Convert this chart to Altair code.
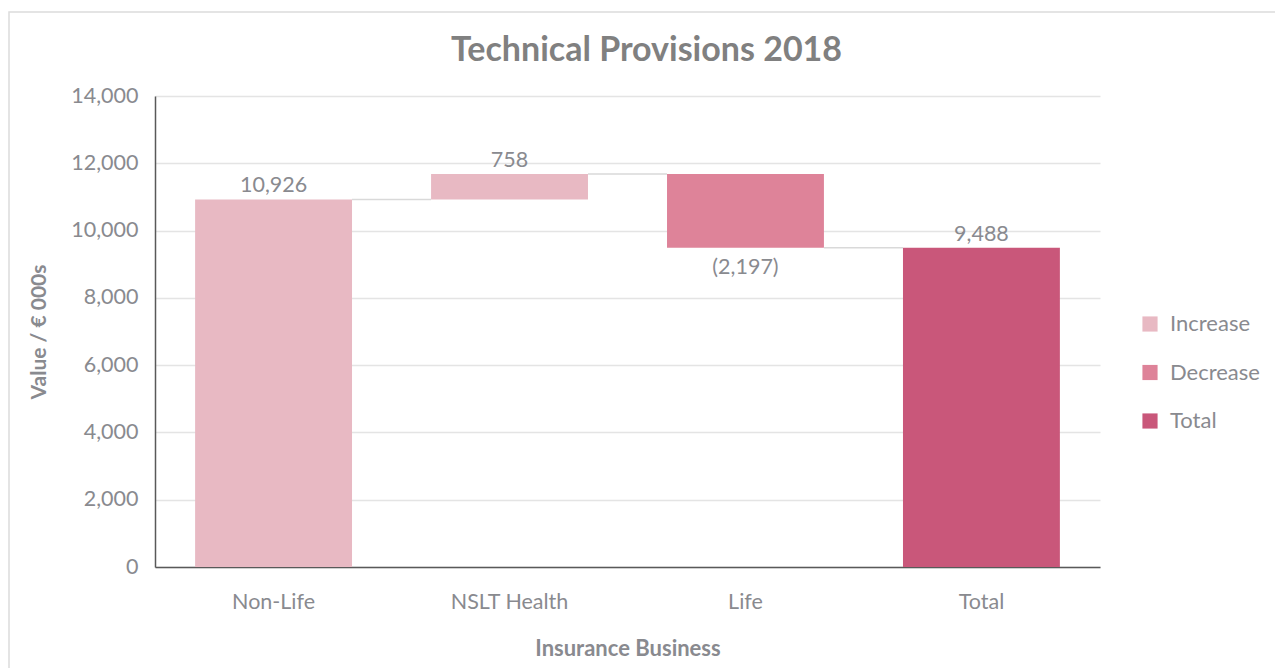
import altair as alt
import pandas as pd

categories = ["Non-Life", "NSLT Health", "Life", "Total"]
starts = [0, 10926, 11684, 0]
ends = [10926, 11684, 9487, 9487]
kinds = ["Increase", "Increase", "Decrease", "Total"]
labels = ["10,926", "758", "(2,197)", "9,488"]

conn_from = ["Non-Life", "NSLT Health", "Life"]
conn_to = ["NSLT Health", "Life", "Total"]
conn_level = [10926, 11684, 9487]

y_ticks = [0, 2000, 4000, 6000, 8000, 10000, 12000, 14000]

legend_order = ["Increase", "Decrease", "Total"]
legend_colors = ["#E8B9C3", "#DE8399", "#C9577A"]

df = pd.DataFrame({"cat": categories, "start": starts, "end": ends,
                   "kind": kinds, "label": labels})
conn = pd.DataFrame({"a": conn_from, "b": conn_to, "lvl": conn_level})

FONT = "Lato"
GRAY = "#898A8F"

xscale = alt.Scale(domain=categories, paddingInner=0.335, paddingOuter=0.17)
xenc = alt.X("cat:N", scale=xscale,
             axis=alt.Axis(title="Insurance Business", labelAngle=0,
                           labelFontSize=21.5, labelColor=GRAY, labelPadding=24,
                           titleFontSize=22, titleColor=GRAY, titleFontWeight="bold",
                           titlePadding=26, ticks=False, domainColor="#595959",
                           domainWidth=1.5, grid=False))
yscale = alt.Scale(domain=[0, 14000], nice=False)

bars = alt.Chart(df).mark_bar().encode(
    x=xenc,
    y=alt.Y("start:Q", scale=yscale,
            axis=alt.Axis(title="Value / € 000s", values=y_ticks, format=",.0f",
                          labelFontSize=21.5, labelColor=GRAY, labelPadding=17,
                          titleFontSize=21, titleColor=GRAY, titleFontWeight="bold",
                          titlePadding=21, ticks=False, domainColor="#595959",
                          domainWidth=1.5, gridColor="#E4E4E4", gridWidth=1.5)),
    y2="end:Q",
    color=alt.Color("kind:N", sort=legend_order,
                    scale=alt.Scale(domain=legend_order, range=legend_colors),
                    legend=alt.Legend(title=None, orient="none", legendX=984, legendY=217,
                                      symbolType="square", symbolSize=230,
                                      symbolStrokeWidth=0, symbolOpacity=1,
                                      labelFontSize=22, labelColor=GRAY,
                                      rowPadding=26.5, labelOffset=9)),
)

connectors = alt.Chart(conn).mark_rule(color="#D9D9D9", strokeWidth=1.5).encode(
    x=alt.X("a:N", scale=xscale, bandPosition=1),
    x2=alt.X2("b:N", bandPosition=0),
    y=alt.Y("lvl:Q", scale=yscale),
)

up_labels = alt.Chart(df).transform_filter(alt.datum.kind != "Decrease").mark_text(
    baseline="bottom", dy=-2, fontSize=21.5, color=GRAY, font=FONT).encode(
    x=alt.X("cat:N", scale=xscale), y=alt.Y("end:Q", scale=yscale), text="label:N")

down_labels = alt.Chart(df).transform_filter(alt.datum.kind == "Decrease").mark_text(
    baseline="top", dy=9, fontSize=21.5, color=GRAY, font=FONT).encode(
    x=alt.X("cat:N", scale=xscale), y=alt.Y("end:Q", scale=yscale), text="label:N")

border = alt.Chart(pd.DataFrame({"k": [0]})).mark_rect(
    fill=None, stroke="#DCDCDC", strokeWidth=1.5).encode(
    x=alt.value(-146), x2=alt.value(1130), y=alt.value(-84), y2=alt.value(580))

chart = alt.layer(border, bars, connectors, up_labels, down_labels).properties(
    width=945, height=471,
    title=alt.TitleParams("Technical Provisions 2018", fontSize=34, fontWeight="bold",
                          color="#808080", font=FONT, anchor="middle", dx=19, dy=75, offset=18),
    autosize=alt.AutoSizeParams(type="none"),
    padding={"left": 155, "top": 96, "right": 175, "bottom": 101},
).configure(font=FONT).configure_view(stroke=None)

chart.save("out.html", embed_options={"renderer": "svg", "actions": False})
